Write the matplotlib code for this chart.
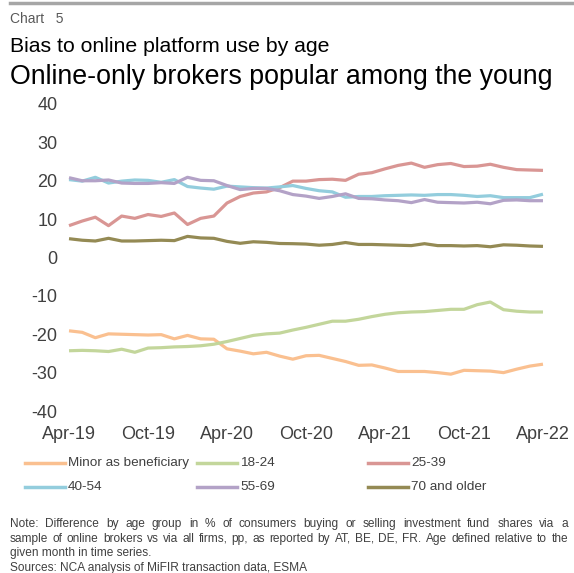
"""
Bias to online platform use by age (ESMA chart 5).
"""
import matplotlib.pyplot as plt
from matplotlib.lines import Line2D

plt.rcParams["font.family"] = ["Liberation Sans", "DejaVu Sans"]
plt.rcParams["axes.unicode_minus"] = False

months = ["Apr-19", "Oct-19", "Apr-20", "Oct-20", "Apr-21", "Oct-21", "Apr-22"]
tick_pos = [0, 6, 12, 18, 24, 30, 36]

minor = [-19.1, -19.5, -20.9, -19.9, -20.0, -20.1, -20.2, -20.1, -21.2, -20.3,
         -21.2, -21.3, -23.8, -24.4, -25.1, -24.7, -25.7, -26.5, -25.6, -25.5,
         -26.3, -27.1, -28.1, -28.0, -28.8, -29.7, -29.7, -29.7, -30.0, -30.4,
         -29.4, -29.5, -29.6, -30.0, -29.1, -28.3, -27.8]
age_18_24 = [-24.3, -24.2, -24.3, -24.5, -23.9, -24.7, -23.6, -23.5, -23.3, -23.2,
             -23.0, -22.6, -21.9, -21.1, -20.3, -19.9, -19.7, -18.9, -18.2, -17.4,
             -16.6, -16.6, -16.1, -15.4, -14.8, -14.4, -14.2, -14.1, -13.8, -13.5,
             -13.5, -12.3, -11.6, -13.6, -14.0, -14.2, -14.2]
age_25_39 = [8.3, 9.5, 10.5, 8.3, 10.8, 10.2, 11.2, 10.7, 11.6, 8.6,
             10.2, 10.8, 14.2, 15.9, 16.8, 17.1, 18.2, 19.9, 19.9, 20.3,
             20.4, 20.1, 21.7, 22.1, 23.1, 24.0, 24.6, 23.5, 24.2, 24.5,
             23.7, 23.8, 24.3, 23.5, 22.9, 22.8, 22.7]
age_40_54 = [20.3, 19.9, 20.9, 19.4, 19.9, 20.2, 20.1, 19.6, 20.3, 18.5,
             18.1, 17.8, 18.6, 18.4, 18.2, 18.1, 18.4, 18.75, 18.0, 17.4,
             17.1, 15.7, 15.9, 15.9, 16.1, 16.2, 16.3, 16.2, 16.4, 16.4,
             16.2, 15.9, 16.1, 15.6, 15.6, 15.6, 16.5]
age_55_69 = [20.8, 20.0, 20.0, 20.2, 19.4, 19.3, 19.3, 19.5, 19.3, 20.9,
             20.1, 20.0, 18.75, 17.7, 18.0, 18.0, 17.4, 16.4, 16.0, 15.4,
             15.9, 16.6, 15.4, 15.3, 15.0, 14.8, 14.3, 15.1, 14.4, 14.3,
             14.2, 14.4, 14.0, 14.9, 15.0, 14.8, 14.8]
age_70_plus = [4.9, 4.5, 4.3, 5.0, 4.3, 4.3, 4.4, 4.5, 4.4, 5.5,
               5.1, 5.0, 4.2, 3.7, 4.1, 3.95, 3.65, 3.6, 3.5, 3.2,
               3.4, 3.9, 3.4, 3.4, 3.3, 3.2, 3.1, 3.6, 3.1, 3.1,
               3.0, 3.1, 2.8, 3.3, 3.2, 3.0, 2.9]

series = [
    ("Minor as beneficiary", minor, "#FAC090"),
    ("18-24", age_18_24, "#C3D69B"),
    ("25-39", age_25_39, "#D99694"),
    ("40-54", age_40_54, "#93CDDD"),
    ("55-69", age_55_69, "#B3A2C7"),
    ("70 and older", age_70_plus, "#948A54"),
]

notes = [
    ("Note: Difference by age group in % of consumers buying or selling investment fund shares via a", True),
    ("sample of online brokers vs via all firms, pp, as reported by AT, BE, DE, FR. Age defined relative to the", True),
    ("given month in time series.", False),
    ("Sources: NCA analysis of MiFIR transaction data, ESMA", False),
]

W, H = 574, 573
fig = plt.figure(figsize=(W / 100, H / 100), dpi=100)
grey = "#404040"

# header
fig.add_artist(Line2D([10 / W, 1], [1 - 3 / H, 1 - 3 / H], color="#A6A6A6", lw=2.5))
fig.text(10 / W, 1 - 19 / H, "Chart   5", fontsize=10, color="#595959", va="center")
fig.text(10 / W, 1 - 47 / H, "Bias to online platform use by age", fontsize=15.3,
         color="black", va="center")
fig.text(10 / W, 1 - 77 / H, "Online-only brokers popular among the young",
         fontsize=19.3, color="black", va="center")

# plot area
left, right = 59.8, 552.2
top, bottom = 104, 411
ax = fig.add_axes([left / W, 1 - bottom / H, (right - left) / W, (bottom - top) / H])
x = list(range(len(minor)))
for label, vals, color in series:
    ax.plot(x, vals, color=color, lw=2.3, label=label, solid_capstyle="butt")

ax.set_xlim(-0.7, 36.7)
ax.set_ylim(-40, 40)
ax.set_yticks(range(-40, 41, 10))
ax.set_xticks(tick_pos)
ax.set_xticklabels(months)
ax.tick_params(length=0, labelsize=13, colors=grey)
ax.tick_params(axis="y", pad=1.5)
ax.tick_params(axis="x", pad=11)
for s in ax.spines.values():
    s.set_visible(False)

# legend, laid out as in the source (three fixed-width columns)
leg_cols = [25, 197, 368]
leg_rows = [463, 487]
for k, (label, _, color) in enumerate(series):
    lx = leg_cols[k % 3]
    ly = leg_rows[k // 3]
    fig.add_artist(Line2D([lx / W, (lx + 40) / W], [1 - ly / H, 1 - ly / H],
                          color=color, lw=2.5))
    fig.text((lx + 43) / W, 1 - ly / H, label, fontsize=9.7, color=grey,
             va="center")

# notes, first two lines justified across the page
renderer = fig.canvas.get_renderer()
note_left, note_right = 10, 568
for i, (line, justify) in enumerate(notes):
    ypos = 1 - (524 + 14.6 * i) / H
    if not justify:
        fig.text(note_left / W, ypos, line, fontsize=8.6, color=grey, va="center")
        continue
    words = line.split(" ")
    texts = [fig.text(0, ypos, w, fontsize=8.6, color=grey, va="center") for w in words]
    widths = [t.get_window_extent(renderer).width for t in texts]
    gap = (note_right - note_left - sum(widths)) / (len(words) - 1)
    xpos = note_left
    for t, w in zip(texts, widths):
        t.set_x(xpos / W)
        xpos += w + gap

fig.savefig("out.png", dpi=100)
